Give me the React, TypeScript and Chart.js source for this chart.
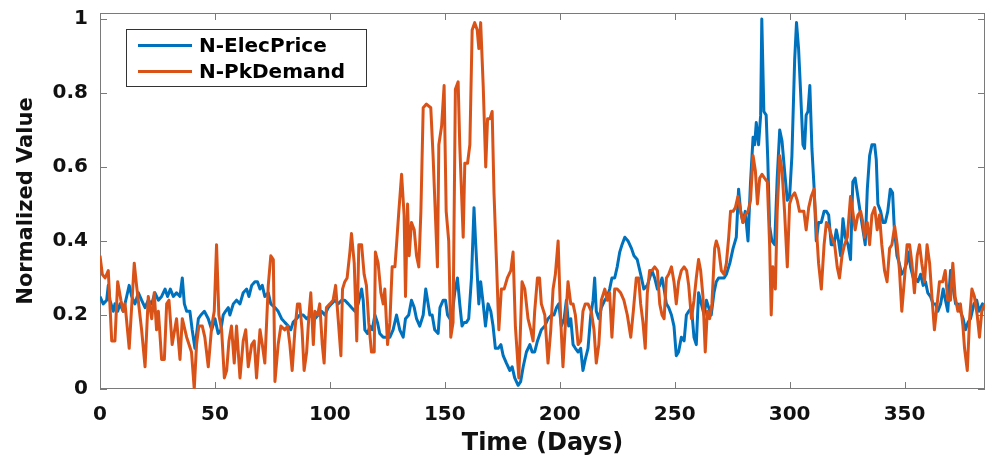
import React, { useEffect, useRef } from "react";
import { Chart, registerables } from "chart.js";

Chart.register(...registerables);

// ---------- data ----------
const priceDays = [
  0, 1.4, 2.9, 3.6, 4.3, 5.8, 6.5, 7.7, 8.7, 10.1, 11.6, 12.7, 13.8, 15.2, 16.7, 18.1, 19.6, 21.0, 22.5, 23.9,
  25.4, 26.8, 28.3, 29.4, 30.6, 31.9, 33.3, 34.8, 35.8, 36.7, 37.7, 39.1, 40.1, 41.3, 42.8, 43.9, 45.4, 47.1, 48.6, 50.0,
  51.4, 52.6, 53.6, 54.6, 55.8, 56.5, 58.0, 59.4, 60.9, 62.3, 63.8, 64.8, 66.0, 67.4, 68.5, 69.6, 70.6, 71.7, 73.2, 74.3,
  76.1, 77.5, 79.0, 80.4, 81.9, 83.0, 84.0, 85.5, 86.9, 88.4, 89.9, 92.0, 93.5, 94.9, 96.4, 97.8, 99.3, 100.7, 102.2, 103.6,
  105.1, 106.5, 108.0, 109.4, 110.9, 112.3, 113.8, 114.5, 115.2, 116.4, 117.4, 118.4, 119.6, 120.7, 121.7, 123.2, 124.6, 126.1, 127.5, 129.0,
  130.4, 131.9, 132.9, 134.3, 135.5, 136.7, 137.7, 139.1, 140.6, 141.7, 142.5, 143.5, 144.5, 145.6, 147.1, 147.9, 149.3, 150.3, 151.2, 152.2,
  153.2, 154.3, 155.5, 156.5, 157.5, 158.4, 159.4, 160.4, 161.6, 162.7, 163.3, 164.2, 164.8, 165.6, 166.7, 167.7, 168.8, 170.0, 171.0, 172.0,
  173.2, 174.4, 175.4, 176.8, 178.3, 179.3, 180.4, 181.9, 183.0, 184.1, 185.5, 187.0, 188.0, 189.1, 190.3, 192.0, 193.5, 194.9, 196.4, 197.5,
  198.6, 199.6, 200.7, 201.9, 202.9, 203.9, 204.8, 205.8, 206.8, 208.0, 209.1, 210.1, 211.1, 212.3, 213.5, 214.5, 215.2, 215.9, 217.0, 218.1,
  219.6, 220.7, 221.7, 222.7, 223.9, 225.0, 226.1, 227.1, 228.3, 229.7, 231.2, 232.3, 233.7, 235.2, 236.6, 238.1, 239.1, 240.1, 241.3, 242.5,
  243.5, 244.5, 245.4, 246.4, 247.4, 248.6, 249.7, 250.7, 251.7, 252.9, 254.1, 255.1, 256.1, 257.3, 258.4, 259.4, 260.4, 261.6, 262.8, 263.8,
  264.8, 265.9, 267.1, 268.1, 269.1, 270.3, 271.5, 272.5, 274.0, 275.4, 276.8, 277.8, 278.7, 279.7, 280.7, 281.9, 283.0, 284.1, 284.8, 285.5,
  286.5, 287.4, 287.9, 288.8, 289.8, 290.5, 291.3, 292.3, 293.5, 294.6, 295.7, 296.7, 297.8, 299.0, 300.0, 301.0, 302.2, 303.0, 303.9, 304.8,
  305.8, 306.5, 307.2, 308.0, 308.8, 309.7, 310.6, 311.6, 312.6, 313.8, 315.0, 316.0, 317.0, 318.1, 319.3, 320.3, 321.3, 322.2, 323.2, 324.2,
  325.4, 326.5, 327.5, 328.5, 329.7, 330.9, 331.9, 332.9, 333.8, 334.8, 335.8, 337.0, 337.7, 338.4, 339.6, 340.6, 341.6, 342.7, 343.8, 344.8,
  345.5, 346.7, 347.7, 348.7, 349.8, 350.9, 351.9, 352.6, 353.8, 354.8, 355.8, 357.0, 358.1, 359.1, 360.1, 361.3, 362.4, 363.5, 364.5, 365.7,
  366.8, 367.8, 368.8, 370.0, 371.2, 372.2, 373.2, 374.3, 375.5, 376.5, 377.6, 378.7, 380.2, 381.4, 382.4, 383.9, 385.0,
];
const priceValues = [
  0.25, 0.23, 0.24, 0.28, 0.24, 0.21, 0.23, 0.21, 0.23, 0.21, 0.25, 0.28, 0.25, 0.23, 0.26, 0.24, 0.22, 0.24, 0.23, 0.26,
  0.24, 0.25, 0.27, 0.25, 0.27, 0.25, 0.26, 0.25, 0.30, 0.23, 0.21, 0.21, 0.16, 0.11, 0.19, 0.20, 0.21, 0.19, 0.16, 0.19,
  0.15, 0.16, 0.20, 0.21, 0.22, 0.20, 0.23, 0.24, 0.23, 0.26, 0.27, 0.25, 0.28, 0.29, 0.29, 0.27, 0.28, 0.25, 0.26, 0.23,
  0.22, 0.21, 0.19, 0.18, 0.17, 0.16, 0.18, 0.19, 0.20, 0.20, 0.19, 0.20, 0.19, 0.20, 0.21, 0.20, 0.22, 0.23, 0.24, 0.23,
  0.24, 0.24, 0.23, 0.22, 0.21, 0.23, 0.27, 0.24, 0.16, 0.15, 0.17, 0.16, 0.20, 0.18, 0.15, 0.14, 0.14, 0.14, 0.16, 0.20,
  0.16, 0.14, 0.19, 0.20, 0.24, 0.22, 0.19, 0.17, 0.20, 0.27, 0.24, 0.20, 0.20, 0.16, 0.15, 0.22, 0.24, 0.24, 0.20, 0.19,
  0.20, 0.26, 0.30, 0.23, 0.17, 0.18, 0.18, 0.19, 0.30, 0.49, 0.41, 0.30, 0.23, 0.29, 0.23, 0.17, 0.23, 0.21, 0.17, 0.11,
  0.11, 0.12, 0.09, 0.07, 0.05, 0.06, 0.03, 0.01, 0.02, 0.06, 0.10, 0.12, 0.10, 0.10, 0.13, 0.16, 0.17, 0.19, 0.20, 0.20,
  0.22, 0.23, 0.17, 0.19, 0.24, 0.17, 0.19, 0.12, 0.11, 0.10, 0.11, 0.05, 0.08, 0.11, 0.20, 0.24, 0.30, 0.21, 0.19, 0.22,
  0.24, 0.25, 0.27, 0.30, 0.30, 0.33, 0.37, 0.39, 0.41, 0.40, 0.38, 0.36, 0.35, 0.31, 0.27, 0.28, 0.30, 0.32, 0.30, 0.27,
  0.28, 0.30, 0.27, 0.23, 0.22, 0.20, 0.17, 0.09, 0.10, 0.14, 0.13, 0.20, 0.21, 0.22, 0.14, 0.12, 0.26, 0.23, 0.20, 0.24,
  0.22, 0.20, 0.26, 0.29, 0.30, 0.30, 0.30, 0.31, 0.34, 0.38, 0.41, 0.54, 0.48, 0.45, 0.48, 0.40, 0.56, 0.68, 0.66, 0.72,
  0.66, 0.74, 1.00, 0.75, 0.74, 0.62, 0.44, 0.40, 0.39, 0.57, 0.70, 0.67, 0.59, 0.51, 0.52, 0.63, 0.89, 0.99, 0.92, 0.80,
  0.66, 0.65, 0.74, 0.75, 0.82, 0.65, 0.55, 0.40, 0.45, 0.45, 0.48, 0.48, 0.47, 0.39, 0.39, 0.43, 0.40, 0.36, 0.46, 0.41,
  0.39, 0.35, 0.56, 0.57, 0.52, 0.47, 0.43, 0.39, 0.54, 0.63, 0.66, 0.66, 0.62, 0.50, 0.48, 0.45, 0.45, 0.48, 0.54, 0.53,
  0.44, 0.36, 0.34, 0.31, 0.32, 0.34, 0.37, 0.33, 0.30, 0.30, 0.29, 0.31, 0.28, 0.29, 0.26, 0.25, 0.23, 0.23, 0.21, 0.23,
  0.27, 0.24, 0.21, 0.32, 0.27, 0.23, 0.23, 0.21, 0.19, 0.16, 0.18, 0.19, 0.23, 0.24, 0.21, 0.23, 0.22,
];

const demandDays = [
  0, 1.0, 2.2, 3.6, 5.1, 6.5, 7.7, 9.1, 10.1, 10.9, 12.7, 14.9, 15.9, 18.1, 19.6, 21.0, 22.5, 23.6, 24.6, 25.4,
  26.8, 28.0, 29.0, 30.0, 31.4, 33.3, 34.8, 35.8, 37.7, 39.8, 41.0, 42.0, 43.0, 44.5, 45.6, 47.1, 48.6, 49.7, 50.7, 51.7,
  52.9, 54.1, 55.1, 56.1, 57.2, 58.4, 59.4, 60.9, 62.3, 63.4, 64.5, 66.0, 67.1, 68.1, 69.6, 70.6, 71.7, 73.2, 74.3, 75.4,
  76.1, 77.5, 78.7, 80.4, 81.6, 82.6, 83.6, 84.8, 85.9, 86.9, 87.9, 88.8, 89.9, 90.9, 91.7, 92.8, 93.5, 94.7, 95.6, 96.7,
  97.5, 98.5, 100.0, 101.4, 102.5, 103.6, 104.8, 105.5, 106.5, 107.5, 108.7, 109.4, 110.6, 111.7, 112.6, 113.8, 114.9, 115.9, 116.9, 118.1,
  119.3, 119.8, 121.0, 122.2, 123.2, 123.9, 125.1, 126.1, 127.1, 128.3, 129.0, 130.0, 131.2, 132.3, 132.9, 133.8, 134.5, 135.5, 136.7, 137.7,
  138.7, 139.6, 140.6, 142.0, 143.9, 144.9, 145.9, 146.8, 147.4, 148.6, 149.7, 150.6, 151.7, 152.6, 153.6, 154.6, 155.8, 156.5, 158.0, 158.7,
  159.9, 160.9, 161.9, 163.0, 164.1, 164.8, 165.6, 166.7, 167.8, 168.6, 169.6, 170.6, 171.4, 172.5, 173.5, 174.6, 175.8, 177.2, 178.7, 179.7,
  180.7, 182.2, 183.6, 184.8, 186.2, 187.4, 188.4, 189.1, 190.3, 191.2, 192.0, 193.5, 194.9, 196.1, 197.1, 198.1, 199.3, 200.4, 201.4, 202.4,
  203.6, 204.8, 205.8, 206.8, 208.0, 209.1, 210.1, 211.1, 212.3, 213.7, 214.9, 215.9, 217.0, 218.1, 219.6, 220.7, 221.7, 222.7, 223.9, 225.0,
  226.5, 227.9, 229.4, 230.9, 232.0, 233.3, 234.3, 235.2, 236.2, 237.2, 238.1, 239.1, 240.1, 241.3, 242.5, 243.5, 244.5, 245.4, 246.4, 247.4,
  248.6, 249.7, 250.7, 251.7, 252.9, 254.1, 255.2, 256.1, 257.3, 258.4, 259.4, 260.4, 261.3, 262.3, 263.3, 264.2, 265.2, 266.2, 267.4, 268.1,
  269.1, 270.3, 271.5, 272.5, 273.5, 274.3, 275.4, 276.4, 277.5, 278.7, 279.7, 280.7, 281.9, 283.0, 284.1, 285.1, 286.0, 287.0, 288.0, 289.1,
  290.3, 291.3, 292.0, 292.7, 293.8, 294.6, 295.7, 296.7, 297.8, 299.0, 300.0, 301.0, 302.2, 303.3, 304.3, 305.4, 306.2, 307.2, 308.3, 309.4,
  310.6, 311.6, 312.6, 313.8, 315.0, 316.0, 317.0, 318.4, 319.6, 320.7, 321.7, 322.8, 323.9, 325.1, 326.5, 327.5, 328.5, 329.7, 330.9, 331.9,
  332.6, 333.8, 334.8, 335.8, 337.0, 338.1, 339.1, 340.1, 341.3, 342.4, 343.5, 344.5, 345.7, 346.8, 347.8, 348.8, 350.0, 351.1, 352.2, 353.2,
  354.3, 355.5, 356.5, 357.5, 358.7, 359.8, 360.9, 361.9, 363.0, 364.2, 365.2, 366.6, 367.7, 368.8, 370.0, 371.0, 372.0, 373.2, 374.3, 375.4,
  376.1, 377.3, 378.3, 379.3, 380.4, 381.6, 382.6, 383.6, 385.0,
];
const demandValues = [
  0.36, 0.31, 0.30, 0.32, 0.13, 0.13, 0.29, 0.24, 0.21, 0.23, 0.11, 0.34, 0.28, 0.16, 0.06, 0.25, 0.19, 0.26, 0.16, 0.21,
  0.08, 0.08, 0.23, 0.24, 0.12, 0.19, 0.08, 0.19, 0.14, 0.10, 0.00, 0.12, 0.17, 0.17, 0.14, 0.06, 0.17, 0.21, 0.39, 0.20,
  0.16, 0.03, 0.05, 0.13, 0.17, 0.07, 0.17, 0.03, 0.13, 0.16, 0.06, 0.12, 0.13, 0.03, 0.16, 0.12, 0.07, 0.28, 0.36, 0.35,
  0.02, 0.12, 0.17, 0.16, 0.17, 0.12, 0.05, 0.16, 0.23, 0.23, 0.16, 0.05, 0.10, 0.20, 0.26, 0.12, 0.21, 0.20, 0.23, 0.12,
  0.07, 0.22, 0.23, 0.24, 0.28, 0.19, 0.09, 0.27, 0.29, 0.30, 0.37, 0.42, 0.34, 0.13, 0.39, 0.39, 0.31, 0.28, 0.18, 0.10,
  0.10, 0.37, 0.34, 0.26, 0.23, 0.27, 0.12, 0.18, 0.33, 0.33, 0.39, 0.48, 0.58, 0.47, 0.25, 0.50, 0.36, 0.45, 0.43, 0.36,
  0.33, 0.48, 0.76, 0.77, 0.76, 0.63, 0.47, 0.33, 0.66, 0.71, 0.82, 0.48, 0.40, 0.14, 0.18, 0.81, 0.83, 0.66, 0.41, 0.61,
  0.61, 0.66, 0.97, 0.99, 0.97, 0.92, 0.99, 0.82, 0.60, 0.73, 0.73, 0.75, 0.53, 0.34, 0.16, 0.27, 0.27, 0.30, 0.32, 0.37,
  0.17, 0.03, 0.29, 0.27, 0.19, 0.16, 0.13, 0.21, 0.30, 0.30, 0.23, 0.20, 0.07, 0.16, 0.27, 0.31, 0.40, 0.19, 0.06, 0.17,
  0.29, 0.23, 0.23, 0.20, 0.12, 0.13, 0.21, 0.23, 0.23, 0.21, 0.16, 0.07, 0.12, 0.24, 0.27, 0.24, 0.26, 0.14, 0.27, 0.27,
  0.26, 0.24, 0.20, 0.14, 0.21, 0.30, 0.30, 0.23, 0.18, 0.11, 0.26, 0.32, 0.32, 0.33, 0.32, 0.23, 0.20, 0.19, 0.30, 0.31,
  0.33, 0.29, 0.23, 0.29, 0.32, 0.33, 0.32, 0.28, 0.19, 0.24, 0.30, 0.35, 0.32, 0.25, 0.10, 0.21, 0.19, 0.23, 0.38, 0.40,
  0.38, 0.32, 0.31, 0.34, 0.41, 0.48, 0.48, 0.49, 0.52, 0.48, 0.45, 0.47, 0.48, 0.51, 0.63, 0.59, 0.50, 0.57, 0.58, 0.57,
  0.56, 0.39, 0.20, 0.33, 0.27, 0.48, 0.63, 0.59, 0.48, 0.33, 0.50, 0.52, 0.53, 0.51, 0.48, 0.48, 0.48, 0.43, 0.49, 0.52,
  0.54, 0.44, 0.34, 0.27, 0.39, 0.45, 0.44, 0.41, 0.39, 0.33, 0.30, 0.36, 0.39, 0.41, 0.52, 0.48, 0.43, 0.47, 0.48, 0.45,
  0.41, 0.45, 0.39, 0.47, 0.49, 0.43, 0.47, 0.39, 0.32, 0.29, 0.38, 0.39, 0.44, 0.39, 0.32, 0.21, 0.30, 0.39, 0.39, 0.34,
  0.26, 0.36, 0.39, 0.34, 0.29, 0.39, 0.34, 0.25, 0.16, 0.23, 0.29, 0.29, 0.32, 0.24, 0.24, 0.34, 0.25, 0.21, 0.23, 0.17,
  0.11, 0.05, 0.19, 0.27, 0.25, 0.20, 0.14, 0.21, 0.23,
];

const xTickValues = [0, 50, 100, 150, 200, 250, 300, 350];
const yTickValues = [0, 0.2, 0.4, 0.6, 0.8, 1];
const seriesLabels = ["N-ElecPrice", "N-PkDemand"];
const seriesColors = ["#0072BD", "#D95319"];
const xAxisTitle = "Time (Days)";
const yAxisTitle = "Normalized Value";

const FONT = "'DejaVu Sans', 'Liberation Sans', sans-serif";

const toPoints = (xs: number[], ys: number[]) => xs.map((x, i) => ({ x, y: ys[i] }));

// MATLAB-like box with inward tick marks
const boxPlugin = {
  id: "matlabBox",
  beforeDatasetsDraw(chart: any) {
    const { ctx, chartArea: a, scales } = chart;
    ctx.save();
    ctx.strokeStyle = "#7a7a7a";
    ctx.lineWidth = 1;
    ctx.strokeRect(a.left + 0.5, a.top + 0.5, a.right - a.left - 1, a.bottom - a.top - 1);
    const len = 7;
    ctx.beginPath();
    for (const v of xTickValues) {
      const x = Math.round(scales.x.getPixelForValue(v)) + 0.5;
      ctx.moveTo(x, a.bottom);
      ctx.lineTo(x, a.bottom - len);
      ctx.moveTo(x, a.top);
      ctx.lineTo(x, a.top + len);
    }
    for (const v of yTickValues) {
      const y = Math.round(scales.y.getPixelForValue(v)) + 0.5;
      ctx.moveTo(a.left, y);
      ctx.lineTo(a.left + len, y);
      ctx.moveTo(a.right, y);
      ctx.lineTo(a.right - len, y);
    }
    ctx.stroke();
    ctx.restore();
  },
};

// Legend box inside the axes, upper-left
const legendPlugin = {
  id: "insideLegend",
  afterDraw(chart: any) {
    const { ctx, chartArea: a } = chart;
    const x0 = a.left + 26;
    const y0 = a.top + 16;
    const w = 240;
    const h = 57;
    ctx.save();
    ctx.fillStyle = "#ffffff";
    ctx.fillRect(x0, y0, w, h);
    ctx.strokeStyle = "#333333";
    ctx.lineWidth = 1;
    ctx.strokeRect(x0 + 0.5, y0 + 0.5, w, h);
    ctx.font = `bold 20px ${FONT}`;
    ctx.textBaseline = "middle";
    ctx.textAlign = "left";
    chart.data.datasets.forEach((ds: any, i: number) => {
      const cy = y0 + 16.5 + i * 26;
      ctx.strokeStyle = ds.borderColor;
      ctx.lineWidth = 3;
      ctx.beginPath();
      ctx.moveTo(x0 + 12, cy);
      ctx.lineTo(x0 + 66, cy);
      ctx.stroke();
      ctx.fillStyle = "#000000";
      ctx.fillText(ds.label, x0 + 73, cy + 1);
    });
    ctx.restore();
  },
};

export default function App() {
  const canvasRef = useRef<HTMLCanvasElement | null>(null);

  useEffect(() => {
    if (!canvasRef.current) return;
    const chart = new Chart(canvasRef.current, {
      type: "line",
      data: {
        datasets: [
          {
            label: seriesLabels[0],
            data: toPoints(priceDays, priceValues),
            borderColor: seriesColors[0],
            backgroundColor: seriesColors[0],
            borderWidth: 3,
            pointRadius: 0,
            tension: 0,
            borderJoinStyle: "round",
            order: 2,
          },
          {
            label: seriesLabels[1],
            data: toPoints(demandDays, demandValues),
            borderColor: seriesColors[1],
            backgroundColor: seriesColors[1],
            borderWidth: 3,
            pointRadius: 0,
            tension: 0,
            borderJoinStyle: "round",
            order: 1,
          },
        ],
      },
      options: {
        animation: false,
        responsive: false,
        devicePixelRatio: 1,
        layout: { padding: { left: 0, right: 1, top: 13, bottom: 0 } },
        plugins: {
          legend: { display: false },
          tooltip: { enabled: false },
        },
        scales: {
          x: {
            type: "linear",
            min: 0,
            max: 385,
            grid: { display: false, drawTicks: false },
            border: { display: false },
            afterBuildTicks: (s: any) => {
              s.ticks = xTickValues.map((v) => ({ value: v }));
            },
            afterFit: (s: any) => {
              s.height = 69;
              s.paddingLeft = 0;
              s.paddingRight = 0;
            },
            ticks: {
              padding: 14,
              maxRotation: 0,
              autoSkip: false,
              color: "#111111",
              font: { family: FONT, size: 20, weight: "bold" },
              callback: (v: any) => String(v),
            },
            title: {
              display: true,
              text: xAxisTitle,
              color: "#111111",
              padding: { top: 0, bottom: 0 },
              font: { family: FONT, size: 24, weight: "bold" },
            },
          },
          y: {
            type: "linear",
            min: 0,
            max: 1.016,
            grid: { display: false, drawTicks: false },
            border: { display: false },
            afterBuildTicks: (s: any) => {
              s.ticks = yTickValues.map((v) => ({ value: v }));
            },
            afterFit: (s: any) => {
              s.width = 100;
              s.paddingTop = 0;
              s.paddingBottom = 0;
            },
            ticks: {
              padding: 12,
              autoSkip: false,
              color: "#111111",
              font: { family: FONT, size: 20, weight: "bold" },
              callback: (v: any) => String(+Number(v).toFixed(2)),
            },
            title: {
              display: true,
              text: yAxisTitle,
              color: "#111111",
              padding: { top: 14, bottom: 0 },
              font: { family: FONT, size: 21, weight: "bold" },
            },
          },
        },
      },
      plugins: [boxPlugin, legendPlugin],
    });
    return () => chart.destroy();
  }, []);

  return (
    <div style={{ position: "fixed", left: 0, top: 0, width: 986, height: 458, background: "#ffffff" }}>
      <canvas ref={canvasRef} width={986} height={458} style={{ display: "block", width: 986, height: 458 }} />
    </div>
  );
}
